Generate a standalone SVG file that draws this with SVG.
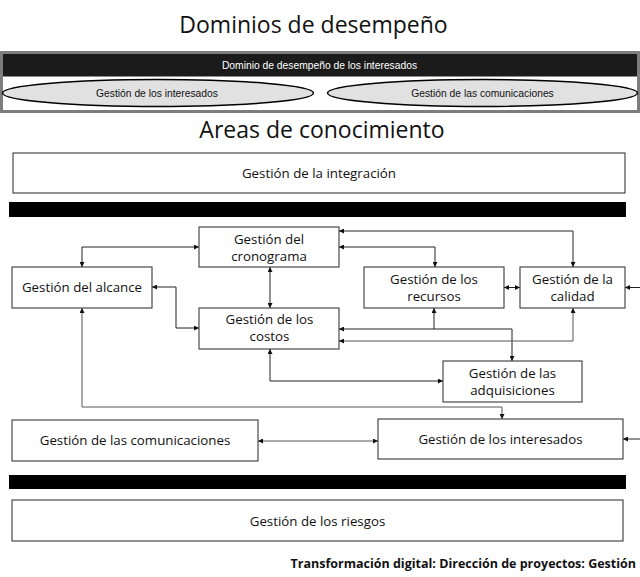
<svg xmlns="http://www.w3.org/2000/svg" width="640" height="577" viewBox="0 0 640 577">
<defs>
<style>
.t{font-family:"Open Sans","Noto Sans",sans-serif;font-size:13.3px;fill:#111;text-anchor:middle}
.h{font-family:"Open Sans","Noto Sans",sans-serif;font-size:23px;fill:#111;text-anchor:middle}
.a{font-family:"Liberation Sans",Arial,sans-serif;font-size:10.3px;text-anchor:middle}
.box{fill:#fff;stroke:#3a3a3a;stroke-width:1.1}
.band{fill:#000}
.ell{fill:#e1e1e1;stroke:#000;stroke-width:1.5}
.c{fill:none;stroke:#222;stroke-width:1}
.cg{fill:none;stroke:#555;stroke-width:1}
</style>
<marker id="ar" viewBox="0 0 10 10" refX="10" refY="5" markerWidth="5" markerHeight="5" markerUnits="userSpaceOnUse" orient="auto-start-reverse">
<path d="M0,0 L10,5 L0,10 z" fill="#111"/>
</marker>
</defs>
<rect width="640" height="577" fill="#fff"/>

<text class="h" x="313.5" y="33">Dominios de desempeño</text>

<g id="dominio-interesados">
<rect x="1.5" y="52.5" width="637" height="59" fill="#fff" stroke="#7d7d7d" stroke-width="3"/>
<rect x="3" y="54" width="634" height="22.5" fill="#1b1b1b"/>
<text class="a" x="319.5" y="68.5" fill="#fff">Dominio de desempeño de los interesados</text>
</g>
<g id="elipse-interesados">
<ellipse class="ell" cx="158" cy="93" rx="155.5" ry="13.5"/>
<text class="a" x="157" y="97" fill="#111">Gestión de los interesados</text>
</g>
<g id="elipse-comunicaciones">
<ellipse class="ell" cx="482.5" cy="93" rx="155" ry="13.5"/>
<text class="a" x="482.5" y="97" fill="#111">Gestión de las comunicaciones</text>
</g>

<text class="h" x="322" y="138">Areas de conocimiento</text>

<g id="integracion">
<rect class="box" x="13" y="153" width="612" height="40"/>
<text class="t" x="319" y="178">Gestión de la integración</text>
</g>
<rect class="band" x="9" y="202" width="617" height="15"/>

<g id="connectors">
<path class="c" d="M82,267 V247 H199" marker-start="url(#ar)" marker-end="url(#ar)"/>
<path class="c" d="M270,267 V308" marker-start="url(#ar)" marker-end="url(#ar)"/>
<path class="c" d="M152,287 H176 V328 H199" marker-start="url(#ar)" marker-end="url(#ar)"/>
<path class="c" d="M339,231 H573 V267" marker-start="url(#ar)" marker-end="url(#ar)"/>
<path class="c" d="M339,247 H435 V267" marker-start="url(#ar)" marker-end="url(#ar)"/>
<path class="c" d="M504,287.5 H520" marker-start="url(#ar)" marker-end="url(#ar)"/>
<path class="c" d="M640,287.5 H625" marker-end="url(#ar)"/>
<path class="c" d="M339,329 H512 V361" marker-start="url(#ar)" marker-end="url(#ar)"/>
<path class="c" d="M434,329 V308" marker-end="url(#ar)"/>
<path class="cg" d="M339,341 H573 V308" marker-start="url(#ar)" marker-end="url(#ar)"/>
<path class="c" d="M270,349 V381 H443" marker-start="url(#ar)" marker-end="url(#ar)"/>
<path class="cg" d="M82,308 V407 H502 V419" marker-start="url(#ar)" marker-end="url(#ar)"/>
<path class="cg" d="M258,441 H378" marker-start="url(#ar)" marker-end="url(#ar)"/>
<path class="c" d="M640,439 H623" marker-end="url(#ar)"/>
</g>

<g id="cronograma">
<rect class="box" x="199" y="227" width="140" height="40"/>
<text class="t" x="269" y="244">Gestión del</text>
<text class="t" x="269" y="261">cronograma</text>
</g>
<g id="alcance">
<rect class="box" x="12" y="267" width="140" height="41"/>
<text class="t" x="82" y="292">Gestión del alcance</text>
</g>
<g id="recursos">
<rect class="box" x="364" y="267" width="140" height="41"/>
<text class="t" x="434" y="284">Gestión de los</text>
<text class="t" x="434" y="301">recursos</text>
</g>
<g id="calidad">
<rect class="box" x="520" y="267" width="105" height="41"/>
<text class="t" x="572.5" y="284">Gestión de la</text>
<text class="t" x="572.5" y="301">calidad</text>
</g>
<g id="costos">
<rect class="box" x="199" y="308" width="140" height="41"/>
<text class="t" x="269.5" y="324">Gestión de los</text>
<text class="t" x="269.5" y="341">costos</text>
</g>
<g id="adquisiciones">
<rect class="box" x="443" y="361" width="139" height="41"/>
<text class="t" x="512.5" y="378">Gestión de las</text>
<text class="t" x="512.5" y="395">adquisiciones</text>
</g>
<g id="comunicaciones">
<rect class="box" x="12" y="420" width="246" height="41"/>
<text class="t" x="135" y="445">Gestión de las comunicaciones</text>
</g>
<g id="interesados">
<rect class="box" x="378" y="419" width="245" height="40"/>
<text class="t" x="500.5" y="444">Gestión de los interesados</text>
</g>

<rect class="band" x="9" y="475" width="617" height="14"/>

<g id="riesgos">
<rect class="box" x="12" y="500" width="611" height="41"/>
<text class="t" x="317.5" y="526">Gestión de los riesgos</text>
</g>

<text x="636" y="568" text-anchor="end" style="font-family:'Open Sans','Noto Sans',sans-serif;font-size:12.5px;font-weight:bold;fill:#111">Transformación digital: Dirección de proyectos: Gestión</text>
</svg>
